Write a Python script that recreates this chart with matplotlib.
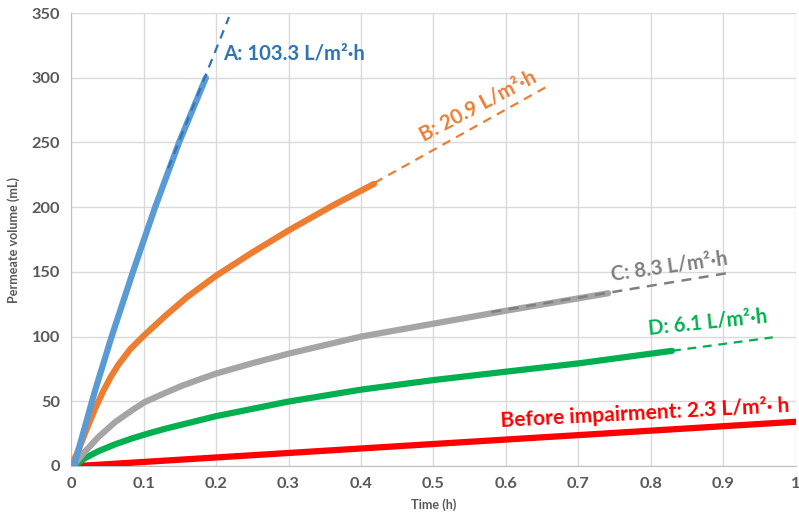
import matplotlib
matplotlib.use('Agg')
import matplotlib.pyplot as plt
from matplotlib import font_manager

# 数据
a_t = [0.004, 0.033, 0.056, 0.086, 0.116, 0.149, 0.186]
a_v = [0, 58, 100, 151, 200, 250, 300]
a_fit_t = [0.134, 0.218]
a_fit_v = [230, 347]

b_t = [0.003, 0.01, 0.019, 0.033, 0.045, 0.055, 0.065, 0.082, 0.1, 0.13, 0.16, 0.2, 0.25, 0.3, 0.36, 0.418]
b_v = [3, 12, 25, 44, 58.5, 69, 78, 90.5, 100.5, 116, 130.5, 147, 165, 182, 201, 218]
b_fit_t = [0.40, 0.659]
b_fit_v = [213, 294]

c_t = [0.004, 0.019, 0.038, 0.061, 0.084, 0.102, 0.13, 0.153, 0.175, 0.2, 0.25, 0.3, 0.4, 0.5, 0.6, 0.741]
c_v = [1, 11, 22.5, 34, 43, 49.5, 56.5, 62, 66.5, 71.4, 79.4, 86.8, 100, 110, 120, 133.5]
c_fit_t = [0.58, 0.909]
c_fit_v = [119, 149.4]

d_t = [0, 0.008, 0.019, 0.038, 0.061, 0.084, 0.107, 0.13, 0.153, 0.2, 0.3, 0.4, 0.5, 0.6, 0.7, 0.829]
d_v = [0, 1.5, 6, 11.5, 16.8, 21.3, 25.2, 28.8, 32, 38.5, 49.8, 59, 66.4, 72.9, 79.3, 89]
d_fit_t = [0.829, 0.968]
d_fit_v = [89, 99.4]

r_t = [0.01, 0.5, 1.0]
r_v = [0, 17, 34.2]

x_ticks = [0, 0.1, 0.2, 0.3, 0.4, 0.5, 0.6, 0.7, 0.8, 0.9, 1]
x_labels = ['0', '0.1', '0.2', '0.3', '0.4', '0.5', '0.6', '0.7', '0.8', '0.9', '1']
y_ticks = [0, 50, 100, 150, 200, 250, 300, 350]


def pick_bold_family():
    # 找一个真正带粗体文件的字体
    scales = {'Lato': 1.0, 'Liberation Sans': 0.93, 'Roboto': 0.93,
              'Open Sans': 0.89, 'DejaVu Sans': 0.84}
    for fam in scales:
        try:
            path = font_manager.findfont(
                font_manager.FontProperties(family=fam, weight='bold'),
                fallback_to_default=False)
        except Exception:
            continue
        if 'bold' in path.lower() or 'bd' in path.lower():
            return fam, scales[fam]
    return 'DejaVu Sans', 0.84


fam, k = pick_bold_family()
plt.rcParams['font.family'] = [fam, 'DejaVu Sans']

fig = plt.figure(figsize=(7.99, 5.24), dpi=100)
ax = fig.add_axes([0.0889, 0.1107, 0.9073, 0.8643])

# 实测曲线
lw = 4.5
ax.plot(r_t, r_v, color='#FF0000', lw=lw, solid_capstyle='round', zorder=3)
ax.plot(d_t, d_v, color='#00B050', lw=lw, solid_capstyle='round', zorder=3)
ax.plot(c_t, c_v, color='#A5A5A5', lw=lw, solid_capstyle='round', zorder=3)
ax.plot(b_t, b_v, color='#ED7D31', lw=lw, solid_capstyle='round', zorder=3)
ax.plot(a_t, a_v, color='#5B9BD5', lw=lw, solid_capstyle='round', zorder=3)

# 拟合虚线
dash = (0, (4, 3))
ax.plot(a_fit_t, a_fit_v, color='#2E75B6', lw=1.6, ls=dash, zorder=4)
ax.plot(b_fit_t, b_fit_v, color='#ED7D31', lw=1.6, ls=dash, zorder=4)
ax.plot(c_fit_t, c_fit_v, color='#7F7F7F', lw=1.8, ls=dash, zorder=4)
ax.plot(d_fit_t, d_fit_v, color='#00B050', lw=1.6, ls=dash, zorder=4)

# 标注
lab = dict(fontsize=14.6 * k, fontweight='bold')
ax.text(0.21, 319, 'A: 103.3 L/m²·h', color='#2E75B6', ha='left', va='center', **lab)
ax.text(0.561, 278, 'B: 20.9 L/m²·h', color='#ED7D31', ha='center', va='center',
        rotation=28, **lab)
ax.text(0.825, 154.5, 'C: 8.3 L/m²·h', color='#808080', ha='center', va='center',
        rotation=8, **lab)
ax.text(0.879, 111, 'D: 6.1 L/m²·h', color='#00B050', ha='center', va='center',
        rotation=6, **lab)
ax.text(0.792, 41, 'Before impairment: 2.3 L/m²· h', color='#FF0000', ha='center',
        va='center', rotation=3, fontsize=15.1 * k, fontweight='bold')

ax.set_xlim(0, 1)
ax.set_ylim(0, 350)
ax.set_xticks(x_ticks)
ax.set_xticklabels(x_labels)
ax.set_yticks(y_ticks)
ax.tick_params(length=0, labelsize=11.8 * k, colors='#595959', pad=8)
for lbl in ax.get_xticklabels() + ax.get_yticklabels():
    lbl.set_fontweight('bold')
ax.grid(True, color='#D9D9D9', lw=1)
ax.set_axisbelow(True)
for side in ['top', 'right']:
    ax.spines[side].set_visible(False)
for side in ['left', 'bottom']:
    ax.spines[side].set_color('#BFBFBF')

ax.set_xlabel('Time (h)', fontsize=9.1 * k, fontweight='bold', color='#595959', labelpad=5)
ax.set_ylabel('Permeate volume (mL)', fontsize=9.1 * k, fontweight='bold', color='#595959', labelpad=8)

fig.savefig('out.png', dpi=100)
